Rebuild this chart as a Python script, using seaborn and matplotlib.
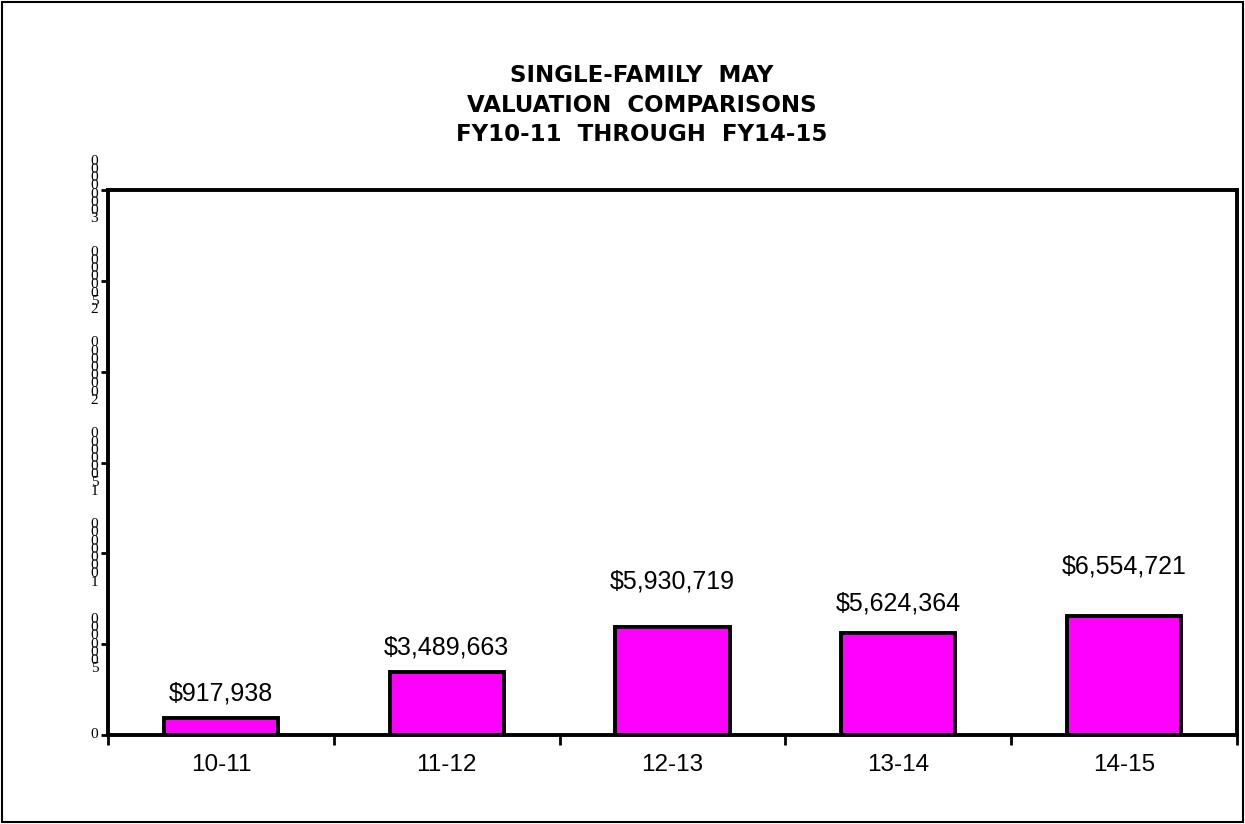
import matplotlib
matplotlib.use("Agg")
import matplotlib.pyplot as plt
import seaborn as sns
import pandas as pd
from matplotlib.patches import Rectangle

categories = ["10-11", "11-12", "12-13", "13-14", "14-15"]
values = [917938, 3489663, 5930719, 5624364, 6554721]
value_labels = ["$917,938", "$3,489,663", "$5,930,719", "$5,624,364", "$6,554,721"]
yticks = [0, 5000000, 10000000, 15000000, 20000000, 25000000, 30000000]
title_lines = ["SINGLE-FAMILY  MAY", "VALUATION  COMPARISONS", "FY10-11  THROUGH  FY14-15"]

sns.set_theme(style="white")
plt.rcParams['font.family'] = ['Liberation Sans', 'DejaVu Sans']
plt.rcParams['text.color'] = 'black'
plt.rcParams['xtick.color'] = 'black'
plt.rcParams['ytick.color'] = 'black'
plt.rcParams['axes.labelcolor'] = 'black'

df = pd.DataFrame({"cat": categories, "val": values})

W, H = 1245, 824
L, R, T, B = 108, 1237, 190, 735
fig = plt.figure(figsize=(12.45, 8.24), dpi=100)
ax = fig.add_axes([L / W, 1 - B / H, (R - L) / W, (B - T) / H])

sns.barplot(data=df, x="cat", y="val", ax=ax, color="#FF00FF", saturation=1,
            width=0.505, edgecolor="black", linewidth=2.8)

ax.set_ylim(0, 30000000)
ax.set_xlim(-0.5, 4.5)
ax.set_xlabel("")
ax.set_ylabel("")

# y tick labels: characters stacked vertically
def stack(v):
    return "\n".join(reversed(str(v)))

ax.set_yticks(yticks)
ax.set_yticklabels([stack(v) for v in yticks], family="Liberation Serif",
                   fontsize=11, linespacing=0.52, va="center", color="black")

# x ticks at category boundaries, labels centered
ax.set_xticks([i - 0.5 for i in range(len(categories) + 1)])
ax.set_xticklabels([])
ax.set_xticks(range(len(categories)), minor=True)
ax.set_xticklabels(categories, minor=True, fontsize=17.5, color="black")
ax.tick_params(axis="x", which="minor", length=0, pad=14)
ax.tick_params(axis="x", which="major", direction="out", length=7, width=2, color="black", bottom=True)
ax.tick_params(axis="y", direction="out", length=5, width=2, color="black", left=True, pad=2)

for sp in ax.spines.values():
    sp.set_visible(True)
    sp.set_color("black")
    sp.set_linewidth(2.8)

offsets = [25, 24, 46, 29, 49]
for p, lab, off in zip(ax.patches, value_labels, offsets):
    ax.annotate(lab, (p.get_x() + p.get_width() / 2, p.get_height()),
                xytext=(0, off * 0.72), textcoords="offset points",
                ha="center", va="center", fontsize=18, color="black")

fig.text(642 / W, 1 - 105 / H, "\n".join(title_lines),
         ha="center", va="center", fontsize=16.5, fontweight="bold", linespacing=1.37,
         color="black", family=["DejaVu Sans"])

fig.patches.append(Rectangle((0.002, 0.002), 0.996, 0.996, transform=fig.transFigure,
                             fill=False, edgecolor="black", linewidth=1.5))

fig.savefig("out.png", dpi=100)
